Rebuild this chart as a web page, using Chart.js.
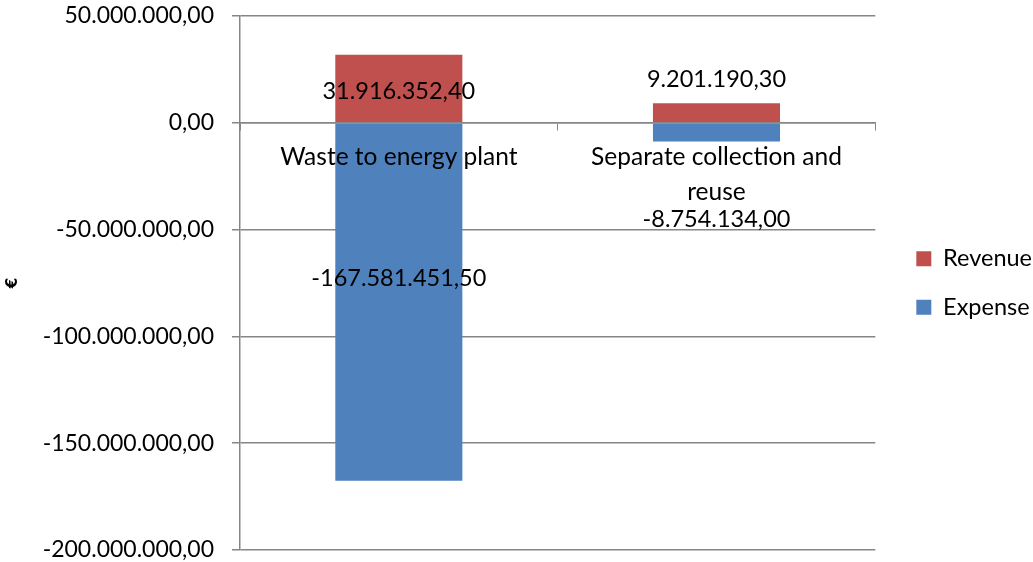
<!DOCTYPE html>
<html>
<head>
<meta charset="utf-8">
<script src="https://cdn.jsdelivr.net/npm/chart.js@4/dist/chart.umd.min.js"></script>
<style>
  html, body { margin: 0; padding: 0; background: #ffffff; }
  #wrap { width: 1033px; height: 562px; }
</style>
</head>
<body>
<div id="wrap"><canvas id="c" width="1033" height="562"></canvas></div>
<script>
// ---- data ----
const categories = ["Waste to energy plant", ["Separate collection and", "reuse"]];
const seriesNames = ["Expense", "Revenue"];
const expenseValues = [-167581451.50, -8754134.00];
const revenueValues = [31916352.40, 9201190.30];
const yTicks = [50000000, 0, -50000000, -100000000, -150000000, -200000000];

const FONT = "Lato, 'Open Sans', sans-serif";

function fmtEU(v) {
  const neg = v < 0;
  const abs = Math.abs(v);
  const parts = abs.toFixed(2).split(".");
  const intPart = parts[0].replace(/\B(?=(\d{3})+(?!\d))/g, ".");
  return (neg ? "-" : "") + intPart + "," + parts[1];
}

// pixel nudges for the data labels (dataset index -> per-bar offset from bar centre)
const labelNudge = {
  0: [-24, 87],
  1: [3, -33]
};

const dataLabels = {
  id: "dataLabels",
  afterDatasetsDraw(chart) {
    const ctx = chart.ctx;
    ctx.save();
    ctx.font = "23.5px " + FONT;
    ctx.fillStyle = "#000000";
    ctx.textAlign = "center";
    ctx.textBaseline = "middle";
    chart.data.datasets.forEach((ds, di) => {
      const meta = chart.getDatasetMeta(di);
      meta.data.forEach((el, i) => {
        const p = el.getProps(["x", "y", "base"], true);
        const cy = (p.y + p.base) / 2 + labelNudge[di][i];
        ctx.fillText(fmtEU(ds.data[i]), p.x, cy);
      });
    });
    ctx.restore();
  }
};

// move the legend a little further right, away from the plot
const legendShift = {
  id: "legendShift",
  afterLayout(chart) {
    if (chart.legend) {
      chart.legend.left += 16;
      chart.legend.right += 16;
    }
  }
};

new Chart(document.getElementById("c"), {
  type: "bar",
  data: {
    labels: categories,
    datasets: [
      { label: seriesNames[0], data: expenseValues, backgroundColor: "#4F81BD", borderWidth: 0 },
      { label: seriesNames[1], data: revenueValues, backgroundColor: "#C0504D", borderWidth: 0 }
    ]
  },
  options: {
    responsive: false,
    animation: false,
    devicePixelRatio: 1,
    layout: { padding: { left: 0, top: 16, bottom: 12, right: 7 } },
    datasets: { bar: { categoryPercentage: 1.0, barPercentage: 0.4 } },
    plugins: {
      legend: {
        position: "right",
        reverse: true,
        labels: {
          font: { family: FONT, size: 23.5 },
          color: "#000000",
          boxWidth: 15,
          boxHeight: 15,
          padding: 25
        }
      },
      tooltip: { enabled: false }
    },
    scales: {
      x: {
        stacked: true,
        position: { y: 0 },
        grid: {
          drawOnChartArea: false,
          drawTicks: true,
          tickLength: 7,
          color: "#868686",
          offset: true,
          z: 1
        },
        border: { display: true, color: "#868686", width: 1.5, z: 1 },
        ticks: {
          color: "#000000",
          font: { family: FONT, size: 24.5, lineHeight: 1.43 },
          padding: 10,
          maxRotation: 0,
          autoSkip: false,
          z: 1
        }
      },
      y: {
        stacked: true,
        min: -200000000,
        max: 50000000,
        afterBuildTicks(scale) {
          scale.ticks = yTicks.map(v => ({ value: v }));
        },
        afterFit(scale) {
          scale.width = 240;
          scale.paddingTop = 0;
          scale.paddingBottom = 0;
        },
        grid: {
          color: "#868686",
          lineWidth: 1.5,
          tickLength: 8
        },
        border: { display: true, color: "#868686", width: 1.5 },
        ticks: {
          color: "#000000",
          font: { family: FONT, size: 23 },
          padding: 18,
          callback: (v) => fmtEU(v)
        },
        title: {
          display: true,
          text: "€",
          color: "#000000",
          font: { family: "'DejaVu Sans', sans-serif", size: 15, weight: "bold" },
          padding: { top: 4, bottom: 0 }
        }
      }
    }
  },
  plugins: [dataLabels, legendShift]
});
</script>
</body>
</html>
